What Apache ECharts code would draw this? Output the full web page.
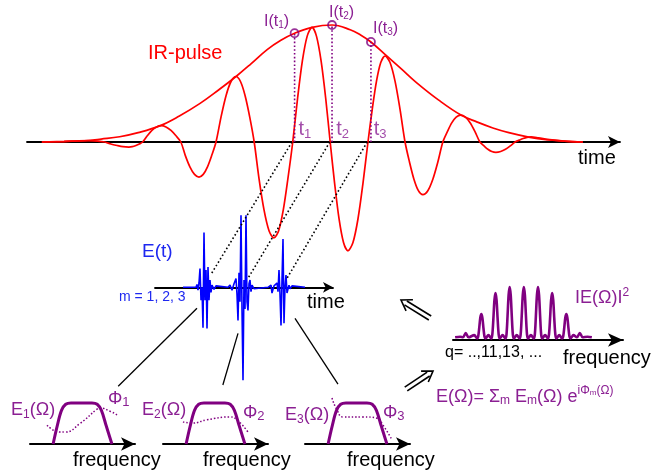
<!DOCTYPE html>
<html><head><meta charset="utf-8">
<script src="https://cdn.jsdelivr.net/npm/echarts@6/dist/echarts.min.js"></script>
<style>html,body{margin:0;padding:0;background:#fff}#c{width:666px;height:473px}</style>
</head><body><div id="c"></div>
<script>
// ---- data ----
// IR pulse: time (half-periods) vs field (normalised to envelope max)
const irField = [[0.4,0],[1.0,0.004],[1.4,0.01],[1.65,0.012],[1.9,0.008],[2.1,0],
  [2.26,-0.017],[2.43,-0.03],[2.59,-0.04],[2.75,-0.043],[2.84,-0.04],[2.94,-0.03],[3.03,-0.017],[3.12,0],
  [3.245,0.053],[3.37,0.099],[3.495,0.129],[3.62,0.14],[3.75,0.129],[3.885,0.099],[4.02,0.053],[4.15,0],
  [4.27,-0.114],[4.395,-0.212],[4.52,-0.277],[4.64,-0.3],[4.755,-0.277],[4.87,-0.212],[4.985,-0.114],[5.1,0],
  [5.235,0.213],[5.37,0.396],[5.505,0.517],[5.64,0.56],[5.76,0.517],[5.885,0.396],[6.01,0.213],[6.13,0],
  [6.26,-0.312],[6.395,-0.58],[6.53,-0.758],[6.66,-0.82],[6.79,-0.758],[6.915,-0.58],[7.04,-0.312],[7.17,0],
  [7.3,0.372],[7.43,0.693],[7.56,0.905],[7.69,0.98],[7.81,0.905],[7.935,0.693],[8.06,0.372],[8.18,0],
  [8.3,-0.353],[8.42,-0.658],[8.54,-0.859],[8.66,-0.93],[8.795,-0.859],[8.93,-0.658],[9.065,-0.353],[9.2,0],
  [9.315,0.279],[9.43,0.52],[9.545,0.679],[9.66,0.735],[9.795,0.679],[9.93,0.52],[10.065,0.279],[10.2,0],
  [10.32,-0.171],[10.44,-0.318],[10.56,-0.416],[10.68,-0.45],[10.815,-0.416],[10.95,-0.318],[11.085,-0.171],[11.22,0],
  [11.34,0.087],[11.46,0.163],[11.58,0.212],[11.7,0.23],[11.83,0.212],[11.96,0.163],[12.09,0.087],[12.22,0],
  [12.33,-0.033],[12.435,-0.062],[12.54,-0.081],[12.65,-0.088],[12.78,-0.081],[12.91,-0.062],[13.04,-0.033],[13.17,0],
  [13.28,0.016],[13.385,0.03],[13.49,0.04],[13.6,0.043],[13.8,0.035],[14.1,0.02],[14.5,0.008],[15.0,0]];
const irEnvelope = [[0.4,0],[1.0,0.005],[1.65,0.013],[2.0,0.025],[2.5,0.045],[3.0,0.08],[3.6,0.14],[4.1,0.22],[4.67,0.33],[5.15,0.44],[5.64,0.56],[6.05,0.67],[6.48,0.79],[6.85,0.87],[7.22,0.93],[7.69,0.98],[8.23,1.0],[8.72,0.96],[9.0,0.915],[9.28,0.855],[9.69,0.74],[10.1,0.625],[10.5,0.51],[11.1,0.36],[11.71,0.23],[12.15,0.17],[12.57,0.12],[13.0,0.08],[13.57,0.04],[14.0,0.02],[14.5,0.008],[15.0,0]];
const markTimes = [7.22, 8.23, 9.28];
const markIntensity = [0.93, 1.0, 0.855];
const zeroCross = [7.15, 8.17, 9.18];
const markNames = ['1', '2', '3'];
// attosecond bursts E(t): time (arb.) vs field (arb.)
const attoField = [[28,0],[38,0],[41,0],[42,0.04],[43,-0.04],[44,0.06],[45,0.26],[46,-0.18],[47,0],[48,-0.56],[49,0.76],[50,-0.18],[51,0.24],[52,-0.57],[53,0.28],[54,-0.18],[55,0.1],[56,-0.07],[57,0.03],[59,-0.03],[61,0.02],[63,0],[73,0],[75,0.03],[77,-0.04],[79,0.05],[81,0.12],[82,-0.1],[83,-0.46],[84,0.2],[85,-0.2],[86,1.0],[87,-0.3],[88,-1.29],[89,0.1],[90,-0.3],[91,1.0],[92,-0.2],[93,-0.32],[94,0.05],[95,0.1],[96,-0.06],[97,0.03],[99,-0.02],[101,0],[113,0],[116,0.03],[117,-0.08],[119,0.02],[121,0.04],[122,0.06],[123,-0.06],[124,0.24],[125,-0.1],[126,-0.53],[127,0.1],[128,0.67],[129,-0.5],[130,0],[131,0.17],[132,-0.08],[133,-0.08],[134,0.03],[135,-0.02],[137,0.02],[139,0],[150,0]];
// single-burst spectra |E_m(Ω)| and phases Φ_m
const spectrumAmp = [[2.2,0],[2.6,0.45],[3.0,0.82],[3.4,0.97],[3.9,1.0],[5.9,1.0],[6.4,0.97],[6.8,0.82],[7.25,0.45],[7.8,0]];
const phase1 = [[1.62,0.46],[2.86,0.29],[3.33,0.29],[4.76,0.5],[6.38,0.85],[6.67,0.88],[7.62,0.8],[8.29,0.71]];
const phase2 = [[1.9,0.54],[2.76,0.51],[4.19,0.59],[6.38,0.66],[7.05,0.59],[8.1,0.29]];
const phase3 = [[2.57,1.12],[3.05,0.83],[3.62,0.66],[5.52,0.66],[6.86,0.63],[7.43,0.46],[8.29,0.1]];
// harmonic spectrum |E(Ω)|^2 vs harmonic order q
const harmonicSpectrum = [[5.3,0.05],[6.0,0.06],[6.4,0.05],[6.8,0.13],[7.2,0.05],[8.0,0.09],
  [8.4,0.03],[8.55,0.06],[8.7,0.22],[8.85,0.41],[9.0,0.48],[9.15,0.41],[9.3,0.22],[9.45,0.06],[9.6,0.03],[10.0,0.09],
  [10.4,0.03],[10.55,0.1],[10.7,0.39],[10.85,0.74],[11.0,0.87],[11.15,0.74],[11.3,0.39],[11.45,0.1],[11.6,0.03],[12.0,0.09],
  [12.4,0.03],[12.55,0.1],[12.7,0.44],[12.85,0.83],[13.0,0.98],[13.15,0.83],[13.3,0.44],[13.45,0.1],[13.6,0.03],[14.0,0.09],
  [14.4,0.03],[14.55,0.1],[14.7,0.44],[14.85,0.83],[15.0,0.98],[15.15,0.83],[15.3,0.44],[15.45,0.1],[15.6,0.03],[16.0,0.09],
  [16.4,0.03],[16.55,0.1],[16.7,0.44],[16.85,0.83],[17.0,0.98],[17.15,0.83],[17.3,0.44],[17.45,0.1],[17.6,0.03],[18.0,0.09],
  [18.4,0.03],[18.55,0.1],[18.7,0.39],[18.85,0.74],[19.0,0.87],[19.15,0.74],[19.3,0.39],[19.45,0.1],[19.6,0.03],[20.0,0.09],
  [20.4,0.03],[20.55,0.06],[20.7,0.22],[20.85,0.41],[21.0,0.48],[21.15,0.41],[21.3,0.22],[21.45,0.06],[21.6,0.03],[22.0,0.09],
  [22.5,0.05],[22.9,0.13],[23.3,0.05],[24.0,0.06],[24.6,0.05]];
const harmonicOrders = 'q= ..,11,13, ...';
// link anchors
const delayEnds = [[56,0.18],[93,0.125],[132,0.125]];
const burstAnchors = [[42,-0.29],[83,-0.64],[140,-0.43]];
const spectrumAnchors = [[8.4,1.41],[5.7,1.44],[3.14,1.46]];

// ---- chart ----
const FONT = "'Liberation Sans', Arial, Helvetica, sans-serif";
const RED = '#ff0000', PURPLE = '#800080', PTXT = '#8b1f93', BLUE = '#0000ff', BTXT = '#1e28f0';
const chart = echarts.init(document.getElementById('c'), null, {renderer: 'canvas'});

function xAx(gi, min, max, lw, sym) {
  return {gridIndex: gi, type: 'value', min, max,
    axisLine: {show: true, onZero: true, lineStyle: {color: '#000', width: lw}, symbol: ['none', 'arrow'], symbolSize: sym},
    axisTick: {show: false}, axisLabel: {show: false}, splitLine: {show: false}};
}
function yAx(gi, min, max) {
  return {gridIndex: gi, type: 'value', min, max, show: false, splitLine: {show: false}};
}
const phases = [phase1, phase2, phase3];
const series = [
  {type: 'line', xAxisIndex: 0, yAxisIndex: 0, data: irEnvelope, smooth: 0.4, symbol: 'none', clip: false, lineStyle: {color: RED, width: 1.7}},
  {type: 'line', xAxisIndex: 0, yAxisIndex: 0, data: irField, smooth: 0.3, symbol: 'none', clip: false, lineStyle: {color: RED, width: 1.7}},
];
markTimes.forEach((t, i) => {
  series.push({type: 'line', xAxisIndex: 0, yAxisIndex: 0, data: [[t, 0], [t, markIntensity[i]]], symbol: 'none', clip: false,
    lineStyle: {color: PURPLE, width: 1.6, type: [1.6, 2.2]}, z: 3});
});
series.push({type: 'scatter', xAxisIndex: 0, yAxisIndex: 0, data: markTimes.map((t, i) => [t, markIntensity[i]]),
  symbol: 'circle', symbolSize: 8, clip: false, itemStyle: {color: 'rgba(0,0,0,0)', borderColor: PURPLE, borderWidth: 1.8}, z: 4});
series.push({type: 'scatter', xAxisIndex: 0, yAxisIndex: 0, data: zeroCross.map(t => [t, 0]), symbolSize: 1, clip: false,
  itemStyle: {color: 'rgba(0,0,0,0)'},
  label: {show: true, position: [7, -12], align: 'left', verticalAlign: 'middle',
    formatter: p => '{a|t}{s|' + markNames[p.dataIndex] + '}',
    rich: {a: {fontSize: 20, fontFamily: FONT, color: PTXT, lineHeight: 20},
           s: {fontSize: 13, fontFamily: FONT, color: PTXT, padding: [9, 0, 0, 0]}}}});
series.push({type: 'line', xAxisIndex: 1, yAxisIndex: 1, data: attoField, symbol: 'none', clip: false, lineStyle: {color: BLUE, width: 1.6}, z: 3});
phases.forEach((ph, i) => {
  series.push({type: 'line', xAxisIndex: 2 + i, yAxisIndex: 2 + i, data: spectrumAmp, smooth: 0.35, symbol: 'none', clip: false, lineStyle: {color: PURPLE, width: 3}});
  series.push({type: 'line', xAxisIndex: 2 + i, yAxisIndex: 2 + i, data: ph, smooth: 0.5, symbol: 'none', clip: false, lineStyle: {color: PURPLE, width: 1.5, type: [1.5, 2]}});
});
series.push({type: 'line', xAxisIndex: 5, yAxisIndex: 5, data: harmonicSpectrum, smooth: 0.3, symbol: 'none', clip: false, lineStyle: {color: PURPLE, width: 2.6}});

chart.setOption({
  animation: false,
  backgroundColor: '#fff',
  grid: [
    {left: 27, top: 25, width: 593, height: 234},
    {left: 155, top: 208, width: 178, height: 173},
    {left: 30, top: 382.5, width: 105, height: 61.5},
    {left: 163, top: 382.5, width: 105, height: 61.5},
    {left: 305, top: 382.5, width: 105, height: 61.5},
    {left: 453, top: 280.6, width: 170, height: 59.4}
  ],
  xAxis: [xAx(0, 0, 16, 1.8, [9, 12]), xAx(1, 0, 178, 1.8, [8, 10]), xAx(2, 0, 10, 2, [10, 14]), xAx(3, 0, 10, 2, [10, 14]), xAx(4, 0, 10, 2, [10, 14]), xAx(5, 5, 29, 2, [10, 15])],
  yAxis: [yAx(0, -1, 1), yAx(1, -1.3, 1.1), yAx(2, 0, 1.5), yAx(3, 0, 1.5), yAx(4, 0, 1.5), yAx(5, 0, 1.1)],
  series
});

// ---- links, arrows and text ----
const px = (g, p) => chart.convertToPixel({gridIndex: g}, p);
const gr = [];
zeroCross.forEach((t, i) => {
  const a = px(0, [t, 0]), b = px(1, delayEnds[i]);
  gr.push({type: 'line', z: 5, shape: {x1: a[0], y1: a[1], x2: b[0], y2: b[1]}, style: {stroke: '#000', lineWidth: 1.6, lineDash: [1.6, 2.4]}});
});
burstAnchors.forEach((p, i) => {
  const a = px(1, p), b = px(2 + i, spectrumAnchors[i]);
  gr.push({type: 'line', z: 5, shape: {x1: a[0], y1: a[1], x2: b[0], y2: b[1]}, style: {stroke: '#000', lineWidth: 1.3}});
});
// hollow double-shaft arrows
function dblArrow(tx, ty, px2, py2) {
  const dx = px2 - tx, dy = py2 - ty, L = Math.hypot(dx, dy), ux = dx / L, uy = dy / L, nx = -uy, ny = ux;
  const h = 10, w = 6.5, g = 2.3;
  const st = {stroke: '#000', lineWidth: 1.6, fill: null};
  const bx = px2 - ux * h * 0.55, by = py2 - uy * h * 0.55;
  gr.push({type: 'polyline', z: 6, shape: {points: [[px2 - ux * h + nx * w, py2 - uy * h + ny * w], [px2, py2], [px2 - ux * h - nx * w, py2 - uy * h - ny * w]]}, style: st});
  gr.push({type: 'line', z: 6, shape: {x1: tx + nx * g, y1: ty + ny * g, x2: bx + nx * g, y2: by + ny * g}, style: st});
  gr.push({type: 'line', z: 6, shape: {x1: tx - nx * g, y1: ty - ny * g, x2: bx - nx * g, y2: by - ny * g}, style: st});
}
dblArrow(430, 318, 401, 300);
dblArrow(406, 389, 433, 371);
function T(x, y, text, size, color, rich) {
  return {type: 'text', x, y, z: 10, style: {text, fontSize: size, fontFamily: FONT, fill: color, textAlign: 'left', textVerticalAlign: 'middle', rich}};
}
function subRich(size, sub, color, drop) {
  return {m: {fontSize: size, fontFamily: FONT, fill: color, lineHeight: size},
          s: {fontSize: sub, fontFamily: FONT, fill: color, padding: [drop, 0, 0, 0]}};
}
const r18 = subRich(18, 12, PTXT, 9);
const r15 = subRich(16, 10, PTXT, 7);
gr.push(T(148, 53, 'IR-pulse', 20, RED));
gr.push(T(578, 158, 'time', 20, '#000'));
markNames.forEach((n, i) => {
  const pos = [[264, 22], [329, 13], [373, 29]][i];
  gr.push(T(pos[0], pos[1], '{m|I(t}{s|' + n + '}{m|)}', 16, PTXT, r15));
});
gr.push(T(142, 252, 'E(t)', 19, BTXT));
gr.push(T(119, 297, 'm = 1, 2, 3', 14, BTXT));
gr.push(T(307, 302, 'time', 20, '#000'));
const eLab = [[11, 410], [142, 410], [285, 415]];
const phLab = [[108, 399], [243, 413], [383, 413]];
const fLab = [73, 203, 347];
markNames.forEach((n, i) => {
  gr.push(T(eLab[i][0], eLab[i][1], '{m|E}{s|' + n + '}{m|(Ω)}', 18, PTXT, r18));
  gr.push(T(phLab[i][0], phLab[i][1], '{m|Φ}{s|' + n + '}', 18, PTXT, subRich(18, 13, PTXT, 7)));
  gr.push(T(fLab[i], 460, 'frequency', 20, '#000'));
});
gr.push(T(575, 298, '{m|IE(Ω)I}{p|2}', 18, PTXT, {m: {fontSize: 18, fontFamily: FONT, fill: PTXT, lineHeight: 18}, p: {fontSize: 12, fontFamily: FONT, fill: PTXT, padding: [0, 0, 10, 0]}}));
gr.push(T(445, 353, harmonicOrders, 16, '#000'));
gr.push(T(563, 358, 'frequency', 20, '#000'));
gr.push(T(436, 397, '{m|E(Ω)= Σ}{s|m}{m| E}{s|m}{m|(Ω) e}{p|iΦ}{q|m}{p|(Ω)}', 18, PTXT,
  {m: {fontSize: 18, fontFamily: FONT, fill: PTXT, lineHeight: 18},
   s: {fontSize: 12, fontFamily: FONT, fill: PTXT, padding: [8, 0, 0, 0]},
   p: {fontSize: 12, fontFamily: FONT, fill: PTXT, padding: [0, 0, 12, 0]},
   q: {fontSize: 8, fontFamily: FONT, fill: PTXT, padding: [0, 0, 8, 0]}}));
chart.setOption({graphic: gr});
</script></body></html>
